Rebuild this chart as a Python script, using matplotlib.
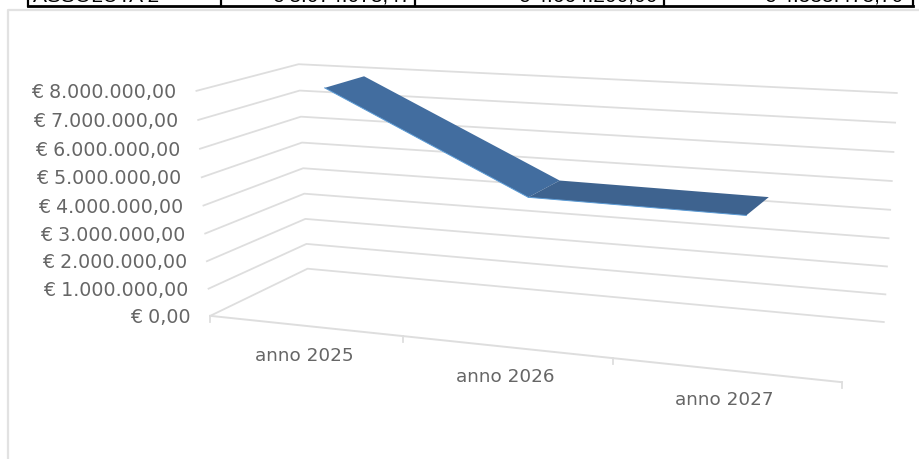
import numpy as np
import matplotlib
matplotlib.use("Agg")
import matplotlib.pyplot as plt

categories = ["anno 2025", "anno 2026", "anno 2027"]
values = [7980000, 4650000, 4580000]
y_ticks = [0, 1000000, 2000000, 3000000, 4000000, 5000000, 6000000, 7000000, 8000000]
y_labels = ["€ 0,00", "€ 1.000.000,00", "€ 2.000.000,00", "€ 3.000.000,00", "€ 4.000.000,00",
            "€ 5.000.000,00", "€ 6.000.000,00", "€ 7.000.000,00", "€ 8.000.000,00"]
table_text = ["ASSOLUTA 2", "€ 8.074.078,47", "€ 4.664.200,00", "€ 4.535.475,70"]

GRID = "#dedede"
TEXT = "#666666"

# box corners: (category pos, value share, depth) -> pixel
refs = [
    (0, 0, 0, 210, 316), (0, 1, 0, 197, 90), (0, 0, 1, 308, 268), (0, 1, 1, 298, 65),
    (3, 0, 0, 842, 381), (3, 0, 1, 884, 322), (3, 1, 1, 897, 93),
    (1, 0, 0, 403, 337), (2, 0, 0, 612, 359),
    (3, 0.5, 1, 890, 210), (0, 0.5, 1, 303, 168),
]
rows = []
rhs = []
for u, v, w, px, py in refs:
    rows.append([u, v, w, 1, 0, 0, 0, 0, -u * px, -v * px, -w * px])
    rows.append([0, 0, 0, 0, u, v, w, 1, -u * py, -v * py, -w * py])
    rhs += [px, py]
cam = np.linalg.lstsq(np.array(rows, float), np.array(rhs, float), rcond=None)[0]
cam = np.append(cam, 1).reshape(3, 4)


def project(u, value, w):
    p = cam @ np.array([u, value / 8000000, w, 1.0])
    return p[0] / p[2], p[1] / p[2]


def line3d(ax, a, b, **kw):
    p1 = project(*a)
    p2 = project(*b)
    ax.plot([p1[0], p2[0]], [p1[1], p2[1]], **kw)


fig = plt.figure(figsize=(9.2, 4.59), dpi=100)
ax = fig.add_axes([0, 0, 1, 1])
ax.set_xlim(0, 920)
ax.set_ylim(459, 0)
ax.axis("off")

# bit of the table above the chart
ax.plot([28, 913], [6, 6], color="black", lw=2)
for x in [28, 221, 415, 664, 913]:
    ax.plot([x, x], [0, 6], color="black", lw=1.6)
for x, s, ha in zip([33, 411, 658, 903], table_text, ["left", "right", "right", "right"]):
    ax.text(x, 2, s, fontsize=15, family="Liberation Sans", ha=ha, va="baseline")

# chart frame
ax.plot([8, 8, 920], [459, 10, 10], color="#e2e2e2", lw=1.6)

# gridlines, wall and floor side
for t, lab in zip(y_ticks, y_labels):
    front = project(0, t, 0)
    back = project(0, t, 1)
    right = project(3, t, 1)
    ax.plot([front[0], back[0], right[0]], [front[1], back[1], right[1]], color=GRID, lw=1.3)
    ax.text(front[0] - 20, front[1] + 1.5, lab, fontsize=13.7, color=TEXT, ha="right", va="center")

line3d(ax, (0, 0, 0), (3, 0, 0), color=GRID, lw=1.4)
for i in range(4):
    p = project(i, 0, 0)
    ax.plot([p[0], p[0]], [p[1], p[1] + 6], color=GRID, lw=1.3)

for i, lab in enumerate(categories):
    p = project(i + 0.5, 0, 0)
    ax.text(p[0], p[1] + 30.5, lab, fontsize=13.2, color=TEXT, ha="center", va="center")

# ribbon
colors = ["#426d9f", "#3e638f"]
for i in range(2):
    c1 = i + 0.5
    c2 = i + 1.5
    pts = [project(c1, values[i], 0.3), project(c1, values[i], 0.72),
           project(c2, values[i + 1], 0.72), project(c2, values[i + 1], 0.3)]
    ax.fill([p[0] for p in pts], [p[1] for p in pts], color=colors[i], lw=0, zorder=5)
    line3d(ax, (c1, values[i], 0.3), (c2, values[i + 1], 0.3), color="#5b9bd5", lw=0.7, zorder=6)

fig.savefig("out.png", dpi=100)
